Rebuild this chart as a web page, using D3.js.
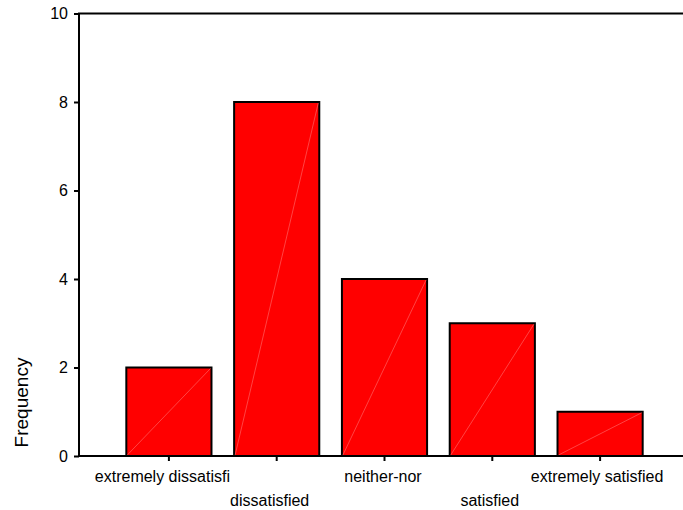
<!DOCTYPE html>
<html><head><meta charset="utf-8">
<script src="https://cdn.jsdelivr.net/npm/d3@7"></script>
<style>body{margin:0;background:#fff}svg{display:block}</style>
</head><body>
<script>
const categories = ["extremely dissatisfi","dissatisfied","neither-nor","satisfied","extremely satisfied"];
const frequencies = [2, 8, 4, 3, 1];
const yTicks = [0, 2, 4, 6, 8, 10];
const yLabel = "Frequency";

const W = 683, H = 510;
const svg = d3.select("body").append("svg").attr("width", W).attr("height", H);
const font = "Liberation Sans, Arial, sans-serif";
// small horizontal nudges of the category labels as in the original layout
const labelNudge = [-6.5, -7, -1.5, -2.5, -3];

const x = d3.scaleBand().domain(categories).range([115, 654]).paddingInner(0.21).paddingOuter(0.105);
const y = d3.scaleLinear().domain([0, 10]).range([456, 13.5]);

// bars
const g = svg.append("g");
g.selectAll("rect.bar").data(frequencies).join("rect")
  .attr("class","bar")
  .attr("x", (d,i) => x(categories[i]))
  .attr("y", d => y(d))
  .attr("width", x.bandwidth())
  .attr("height", d => y(0) - y(d))
  .attr("fill", "#ff0000")
  .attr("stroke", "#000").attr("stroke-width", 2);
g.selectAll("line.diag").data(frequencies).join("line")
  .attr("class","diag")
  .attr("x1", (d,i) => x(categories[i]) + 1)
  .attr("y1", y(0) - 1)
  .attr("x2", (d,i) => x(categories[i]) + x.bandwidth() - 1)
  .attr("y2", d => y(d) + 1)
  .attr("stroke", "#ff7070").attr("stroke-width", 0.6);

// y axis
const yAxis = svg.append("g").attr("transform", "translate(79,0)")
  .call(d3.axisLeft(y).tickValues(yTicks).tickSize(5).tickPadding(6).tickFormat(d3.format("d")));
yAxis.select(".domain").attr("stroke","#000").attr("stroke-width",2).attr("d", `M0,${y(10)}V${y(0)}`);
yAxis.selectAll(".tick line").attr("stroke","#000").attr("stroke-width",2);
yAxis.selectAll(".tick text").attr("font-family", font).attr("font-size", 16).attr("fill","#000");

// x axis
const xAxis = svg.append("g").attr("transform", `translate(0,${y(0)})`)
  .call(d3.axisBottom(x).tickSize(5).tickFormat(""));
xAxis.select(".domain").attr("stroke","#000").attr("stroke-width",2).attr("d", `M78,0H${W}`);
xAxis.selectAll(".tick line").attr("stroke","#000").attr("stroke-width",2);

// top frame line
svg.append("line").attr("x1", 78).attr("x2", W).attr("y1", y(10)).attr("y2", y(10))
  .attr("stroke","#000").attr("stroke-width",2);

// x labels, staggered
svg.selectAll("text.xl").data(categories).join("text")
  .attr("class","xl")
  .attr("x", (d,i) => x(d) + x.bandwidth()/2 + labelNudge[i])
  .attr("y", (d,i) => i % 2 === 0 ? 482 : 505.5)
  .attr("text-anchor","middle")
  .attr("font-family", font).attr("font-size", 16).attr("fill","#000")
  .text(d => d);

// y label
svg.append("text")
  .attr("transform", "translate(28,402.5) rotate(-90)")
  .attr("text-anchor","middle")
  .attr("font-family", font).attr("font-size", 19).attr("fill","#000")
  .text(yLabel);
</script>
</body></html>
